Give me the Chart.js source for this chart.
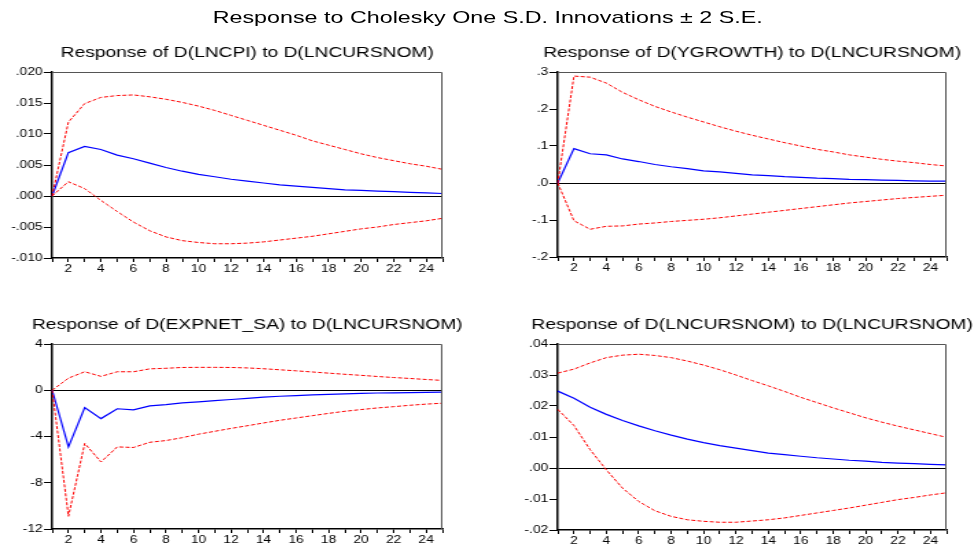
<!DOCTYPE html>
<html>
<head>
<meta charset="utf-8">
<script src="https://cdn.jsdelivr.net/npm/chart.js@4/dist/chart.umd.min.js"></script>
<style>
  html, body { margin: 0; padding: 0; background: #fff; overflow: hidden; width: 975px; height: 546px; }
  #sheet { position: absolute; left: 0; top: 0; width: 712px; height: 546px; transform: scaleX(1.37); transform-origin: 0 0; }
  #mainTitle { position: absolute; left: 0; top: 8px; width: 712px; text-align: center;
    font: 17px "Liberation Sans", Arial, sans-serif; line-height: 20px; color: #000; }
  canvas { position: absolute; }
</style>
</head>
<body>
<div id="sheet">
  <div id="mainTitle">Response to Cholesky One S.D. Innovations ± 2 S.E.</div>
  <canvas id="c1"></canvas>
  <canvas id="c2"></canvas>
  <canvas id="c3"></canvas>
  <canvas id="c4"></canvas>
</div>
<script>
// ================= DATA =================
const periods = [1,2,3,4,5,6,7,8,9,10,11,12,13,14,15,16,17,18,19,20,21,22,23,24,25];

const titles = [
  "Response of D(LNCPI) to D(LNCURSNOM)",
  "Response of D(YGROWTH) to D(LNCURSNOM)",
  "Response of D(EXPNET_SA) to D(LNCURSNOM)",
  "Response of D(LNCURSNOM) to D(LNCURSNOM)"
];

// D(LNCPI)
const cpiResp  = [0, 0.0070, 0.0080, 0.0075, 0.0066, 0.0060, 0.0053, 0.0046, 0.0040, 0.0035, 0.0031, 0.0027, 0.0024, 0.0021, 0.0018, 0.0016, 0.0014, 0.0012, 0.0010, 0.0009, 0.0008, 0.0007, 0.0006, 0.0005, 0.0004];
const cpiUpper = [0, 0.0119, 0.0149, 0.0159, 0.0162, 0.0163, 0.0160, 0.0156, 0.0151, 0.0145, 0.0138, 0.0130, 0.0122, 0.0114, 0.0106, 0.0098, 0.0089, 0.0082, 0.0075, 0.0068, 0.0062, 0.0057, 0.0052, 0.0048, 0.0043];
const cpiLower = [0, 0.0023, 0.0012, -0.0007, -0.0025, -0.0042, -0.0056, -0.0066, -0.0072, -0.0075, -0.0077, -0.0077, -0.0076, -0.0074, -0.0071, -0.0068, -0.0065, -0.0061, -0.0057, -0.0053, -0.0050, -0.0046, -0.0043, -0.0040, -0.0036];

// D(YGROWTH)
const ygResp  = [0, 0.093, 0.079, 0.076, 0.065, 0.058, 0.050, 0.044, 0.039, 0.033, 0.030, 0.026, 0.022, 0.020, 0.017, 0.015, 0.013, 0.012, 0.010, 0.009, 0.008, 0.007, 0.006, 0.005, 0.005];
const ygUpper = [0, 0.289, 0.286, 0.270, 0.245, 0.225, 0.207, 0.192, 0.178, 0.165, 0.152, 0.140, 0.129, 0.119, 0.109, 0.100, 0.091, 0.084, 0.076, 0.070, 0.064, 0.059, 0.055, 0.050, 0.046];
const ygLower = [0, -0.102, -0.125, -0.117, -0.116, -0.111, -0.108, -0.104, -0.101, -0.098, -0.094, -0.089, -0.084, -0.079, -0.074, -0.069, -0.064, -0.059, -0.054, -0.050, -0.046, -0.042, -0.039, -0.036, -0.033];

// D(EXPNET_SA)
const expResp  = [0, -4.9, -1.5, -2.45, -1.6, -1.7, -1.35, -1.25, -1.1, -1.0, -0.9, -0.8, -0.7, -0.6, -0.52, -0.46, -0.40, -0.35, -0.31, -0.27, -0.24, -0.22, -0.20, -0.18, -0.16];
const expUpper = [0, 1.05, 1.6, 1.2, 1.6, 1.6, 1.85, 1.9, 1.97, 1.98, 1.98, 1.97, 1.93, 1.86, 1.77, 1.68, 1.58, 1.48, 1.38, 1.29, 1.19, 1.10, 1.02, 0.93, 0.85];
const expLower = [0, -10.9, -4.6, -6.2, -4.9, -4.95, -4.5, -4.35, -4.1, -3.8, -3.55, -3.3, -3.07, -2.83, -2.6, -2.4, -2.2, -2.0, -1.82, -1.67, -1.53, -1.42, -1.3, -1.2, -1.12];

// D(LNCURSNOM)
const fxResp  = [0.0248, 0.0225, 0.0196, 0.0173, 0.0153, 0.0136, 0.0120, 0.0106, 0.0093, 0.0082, 0.0072, 0.0064, 0.0056, 0.0048, 0.0043, 0.0038, 0.0033, 0.0029, 0.0025, 0.0022, 0.0018, 0.0016, 0.0014, 0.0012, 0.0010];
const fxUpper = [0.0306, 0.0319, 0.0339, 0.0356, 0.0364, 0.0367, 0.0363, 0.0356, 0.0345, 0.0332, 0.0317, 0.0300, 0.0282, 0.0265, 0.0247, 0.0228, 0.0211, 0.0194, 0.0178, 0.0162, 0.0148, 0.0135, 0.0123, 0.0111, 0.0099];
const fxLower = [0.0189, 0.0137, 0.0059, -0.0006, -0.0065, -0.0108, -0.0138, -0.0156, -0.0167, -0.0172, -0.0175, -0.0175, -0.0171, -0.0167, -0.0161, -0.0153, -0.0145, -0.0137, -0.0129, -0.0120, -0.0111, -0.0102, -0.0095, -0.0087, -0.0080];

// y axis ranges: [min, max, step, decimals]
const yRanges = [
  [-0.010, 0.020, 0.005, 3],
  [-0.2, 0.3, 0.1, 1],
  [-12, 4, 4, 0],
  [-0.02, 0.04, 0.01, 2]
];

// ================= LAYOUT =================
const FONT = "'Liberation Sans', Arial, sans-serif";
const AXIS_W = 38;

// [left, top, plotWidth, canvasHeight, xAxisHeight]
const boxes = [
  [0,     36, 285.4, 244, 22],
  [369.3, 36, 283.9, 244, 23],
  [0,    308, 284.7, 244, 23],
  [369.3,308, 283.9, 244, 22]
];

function fmtTick(v, dec) {
  let s = Number(v).toFixed(dec);
  if (dec > 0) s = s.replace("0.", ".");
  return s;
}

// box round the plot area: top and right edges in grey
const framePlugin = {
  id: "frame",
  afterDraw(chart) {
    const a = chart.chartArea, ctx = chart.ctx;
    ctx.save();
    ctx.strokeStyle = "#555";
    ctx.lineWidth = 1;
    ctx.beginPath();
    ctx.moveTo(a.left, a.top + 0.5);
    ctx.lineTo(a.right - 0.5, a.top + 0.5);
    ctx.lineTo(a.right - 0.5, a.bottom);
    ctx.stroke();
    ctx.restore();
  }
};

function makeChart(idx, resp, upper, lower) {
  const [left, top, plotW, h, xh] = boxes[idx];
  const [ymin, ymax, ystep, dec] = yRanges[idx];
  const w = AXIS_W * 2 + plotW;
  const cv = document.getElementById("c" + (idx + 1));
  cv.width = w;
  cv.height = h;
  cv.style.left = left + "px";
  cv.style.top = top + "px";
  cv.style.width = w + "px";
  cv.style.height = h + "px";

  const band = (data) => ({
    data: data, borderColor: "#ff0000", borderWidth: 1,
    borderDash: [3, 1.5], pointRadius: 0, tension: 0, fill: false
  });

  return new Chart(cv, {
    type: "line",
    data: {
      labels: periods,
      datasets: [
        band(upper),
        band(lower),
        { data: resp, borderColor: "#0000ff", borderWidth: 1.2, pointRadius: 0, tension: 0, fill: false }
      ]
    },
    options: {
      responsive: false,
      animation: false,
      devicePixelRatio: 1,
      layout: { padding: 0 },
      plugins: {
        legend: { display: false },
        tooltip: { enabled: false },
        title: {
          display: true,
          text: titles[idx],
          color: "#000",
          font: { family: FONT, size: 14, weight: "normal" },
          padding: { top: 8.6, bottom: 10.6 }
        }
      },
      scales: {
        x: {
          type: "category",
          offset: false,
          afterFit: (s) => { s.height = xh; },
          border: { display: true, color: "#000", width: 1.5 },
          grid: { drawOnChartArea: false, drawTicks: true, tickLength: 4, tickColor: "#000" },
          ticks: {
            autoSkip: false, maxRotation: 0, padding: 1, color: "#000",
            font: { family: FONT, size: 10 },
            callback: function (v) {
              const p = periods[v];
              return p % 2 === 0 ? String(p) : "";
            }
          }
        },
        y: {
          min: ymin, max: ymax,
          afterFit: (s) => { s.width = AXIS_W; },
          border: { display: true, color: "#000", width: 1.5 },
          grid: {
            drawTicks: true, tickLength: 6, tickColor: "#000", lineWidth: 1,
            color: (c) => (c.tick && Math.abs(c.tick.value) < 1e-9 ? "#000" : "rgba(0,0,0,0)")
          },
          ticks: {
            stepSize: ystep, padding: 1, color: "#000",
            font: { family: FONT, size: 10 },
            callback: (v) => fmtTick(v, dec)
          }
        },
        // empty right-hand axis, keeps the plot centred under its title
        yPad: {
          position: "right",
          afterFit: (s) => { s.width = AXIS_W; },
          border: { display: false },
          grid: { display: false },
          ticks: { display: false }
        }
      }
    },
    plugins: [framePlugin]
  });
}

makeChart(0, cpiResp, cpiUpper, cpiLower);
makeChart(1, ygResp, ygUpper, ygLower);
makeChart(2, expResp, expUpper, expLower);
makeChart(3, fxResp, fxUpper, fxLower);
</script>
</body>
</html>
